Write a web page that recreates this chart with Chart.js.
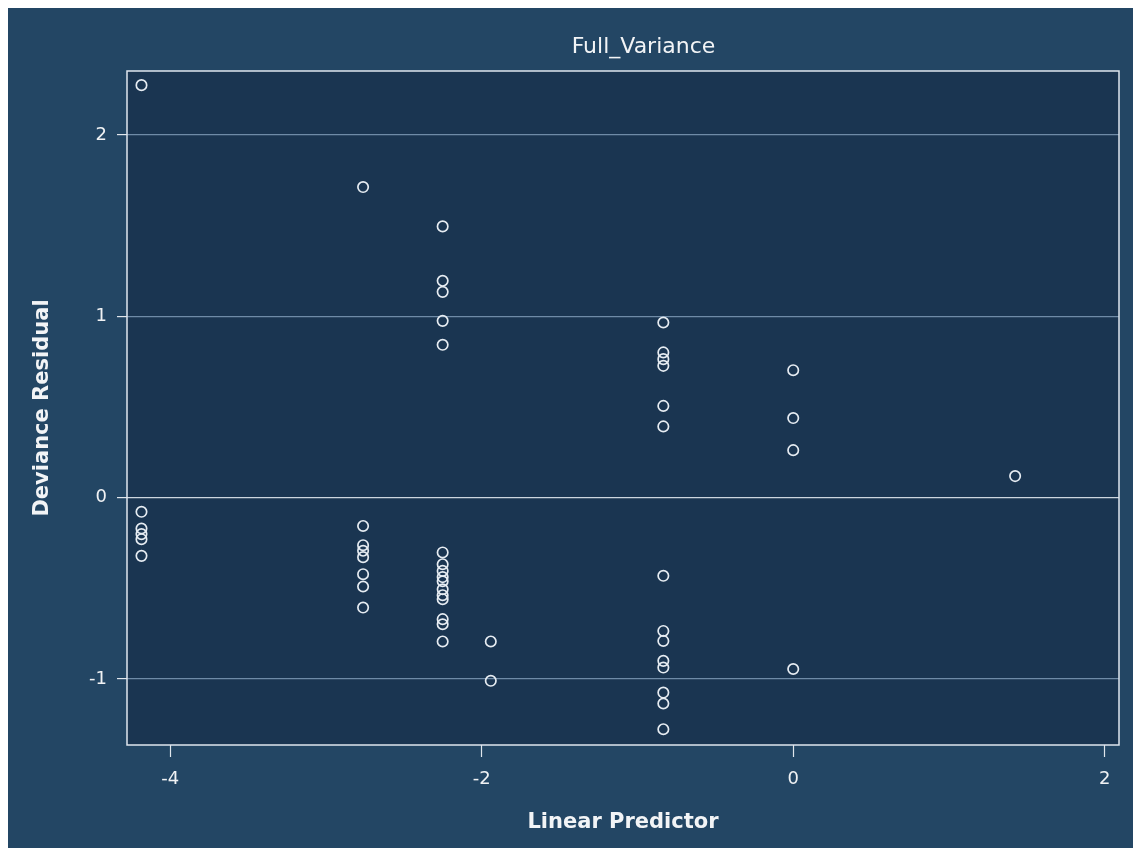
<!DOCTYPE html>
<html>
<head>
<meta charset="utf-8">
<script src="https://cdn.jsdelivr.net/npm/chart.js@4.4.1/dist/chart.umd.min.js"></script>
<style>
  html, body { margin: 0; padding: 0; background: #ffffff; }
  #wrap { position: absolute; left: 8px; top: 8px; width: 1125px; height: 840px; background: #234664; }
  canvas { display: block; }
</style>
</head>
<body>
<div id="wrap"><canvas id="c" width="1125" height="840"></canvas></div>
<script>
// Linear predictor value for each column of points
const predictors = [-4.185, -2.762, -2.251, -1.942, -0.834, 0, 1.425];
// Deviance residuals for each column
const resid1 = [2.275, -0.078, -0.170, -0.201, -0.229, -0.321];
const resid2 = [1.713, -0.156, -0.262, -0.293, -0.328, -0.422, -0.490, -0.606];
const resid3 = [1.496, 1.196, 1.135, 0.975, 0.843, -0.302, -0.367, -0.404, -0.438, -0.461, -0.505, -0.538, -0.560, -0.670, -0.698, -0.793];
const resid4 = [-0.793, -1.010];
const resid5 = [0.966, 0.801, 0.764, 0.727, 0.506, 0.393, -0.431, -0.735, -0.790, -0.900, -0.937, -1.075, -1.135, -1.277];
const resid6 = [0.703, 0.439, 0.262, -0.945];
const resid7 = [0.119];
const residColumns = [resid1, resid2, resid3, resid4, resid5, resid6, resid7];

const xTicks = [-4, -2, 0, 2];
const yTicks = [-1, 0, 1, 2];
const chartTitle = 'Full_Variance';
const xTitle = 'Linear Predictor';
const yTitle = 'Deviance Residual';

const points = [];
residColumns.forEach((col, i) => col.forEach(v => points.push({x: predictors[i], y: v})));

const frame = {
  id: 'frame',
  beforeDraw(chart) {
    const {ctx, chartArea: a} = chart;
    ctx.save();
    ctx.fillStyle = '#1a3551';
    ctx.fillRect(a.left, a.top, a.right - a.left, a.bottom - a.top);
    ctx.restore();
  },
  afterLayout(chart) {
    // the title in the reference sits to the right of the canvas centre
    const t = chart.titleBlock;
    if (t) { t.left += 80; t.right += 80; }
  },
  afterDatasetsDraw(chart) {
    const {ctx, chartArea: a} = chart;
    ctx.save();
    ctx.strokeStyle = '#dfe6ee';
    ctx.lineWidth = 1.5;
    ctx.strokeRect(a.left, a.top, a.right - a.left, a.bottom - a.top);
    ctx.restore();
  }
};

new Chart(document.getElementById('c'), {
  type: 'scatter',
  data: {
    datasets: [{
      data: points,
      pointRadius: 5.2,
      pointHoverRadius: 5.2,
      pointBorderWidth: 1.7,
      pointBorderColor: '#e6ecf2',
      pointBackgroundColor: 'rgba(0,0,0,0)'
    }]
  },
  options: {
    responsive: false,
    animation: false,
    layout: { padding: { left: 0, right: 14, top: 0, bottom: 0 } },
    plugins: {
      legend: { display: false },
      tooltip: { enabled: false },
      title: {
        display: true,
        text: chartTitle,
        color: '#f2f4f6',
        font: { family: 'DejaVu Sans', size: 22, weight: 'normal' },
        padding: { top: 26, bottom: 10.6 }
      }
    },
    scales: {
      x: {
        type: 'linear',
        min: -4.278,
        max: 2.092,
        afterBuildTicks: s => { s.ticks = xTicks.map(v => ({value: v})); },
        afterFit: s => { s.height = 103; },
        border: { display: false },
        grid: { drawOnChartArea: false, drawTicks: true, tickLength: 12, tickColor: '#e0e6ec', tickWidth: 1.2 },
        ticks: { color: '#f0f2f4', padding: 12, font: { family: 'DejaVu Sans', size: 18 }, callback: v => String(v), maxRotation: 0 },
        title: { display: true, text: xTitle, color: '#f2f4f6', font: { family: 'DejaVu Sans', size: 21, weight: 'bold' }, padding: { top: 0, bottom: 13 } }
      },
      y: {
        type: 'linear',
        min: -1.364,
        max: 2.353,
        afterBuildTicks: s => { s.ticks = yTicks.map(v => ({value: v})); },
        afterFit: s => { s.width = 119; },
        border: { display: false },
        grid: {
          drawOnChartArea: true, drawTicks: true, tickLength: 10,
          color: c => (c.tick && c.tick.value === 0) ? '#ccd5de' : '#6f8ba7',
          tickColor: '#e0e6ec', lineWidth: 1.2
        },
        ticks: { color: '#f0f2f4', padding: 10, font: { family: 'DejaVu Sans', size: 18 }, callback: v => String(v) },
        title: { display: true, text: yTitle, color: '#f2f4f6', font: { family: 'DejaVu Sans', size: 21, weight: 'bold' }, padding: { top: 21.5, bottom: 0 } }
      }
    }
  },
  plugins: [frame]
});
</script>
</body>
</html>
